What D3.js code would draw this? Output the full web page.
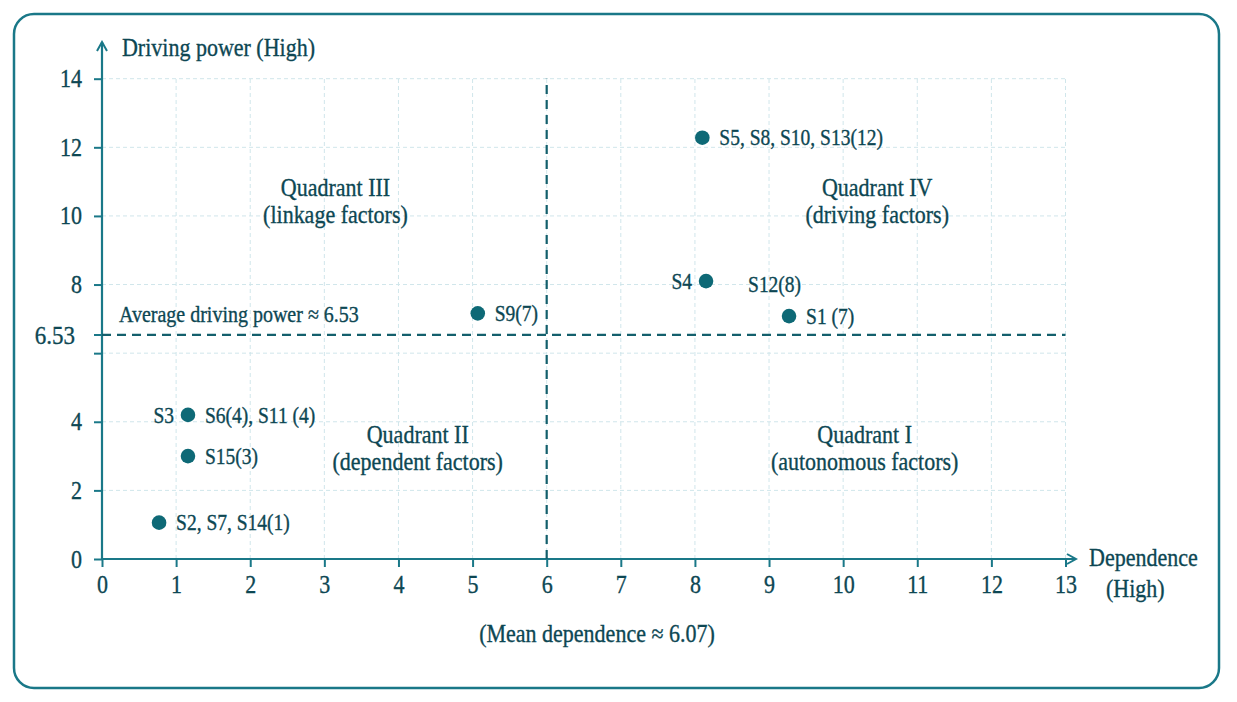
<!DOCTYPE html>
<html>
<head>
<meta charset="utf-8">
<script src="https://cdn.jsdelivr.net/npm/d3@7"></script>
<style>
  body { margin: 0; background: #fff; }
  svg text {
    font-family: "Liberation Serif", "Times New Roman", serif;
    fill: #0d4753;
    stroke: #0d4753;
    stroke-width: 0.3px;
    transform-box: fill-box;
    transform-origin: center;
    transform: scaleY(1.13);
  }
</style>
</head>
<body>
<script>
// data
var dependence = [8.1, 8.15, 9.27, 5.07, 1.16, 1.16, 0.77];
var driving    = [12.28, 8.1, 7.08, 7.16, 4.2, 3.0, 1.06];
var labelRight = ["S5, S8, S10, S13(12)", "S12(8)", "S1 (7)", "S9(7)", "S6(4), S11 (4)", "S15(3)", "S2, S7, S14(1)"];
var labelLeft  = ["", "S4", "", "", "S3", "", ""];

var xTicks = [0, 1, 2, 3, 4, 5, 6, 7, 8, 9, 10, 11, 12, 13];
var yTicks = [0, 2, 4, 6, 8, 10, 12, 14];
var yTickLabels = ["0", "2", "4", "", "8", "10", "12", "14"];

var avgDriving = 6.53;
var meanDependence = 6.07;
var splitDependence = 6;   // dashed line is drawn on the 6 tick

var quadrants = [
  { name: "Quadrant III", sub: "(linkage factors)",    x: 3.15, y: 10.6 },
  { name: "Quadrant IV",  sub: "(driving factors)",    x: 10.46, y: 10.62 },
  { name: "Quadrant II",  sub: "(dependent factors)",  x: 4.26, y: 3.4 },
  { name: "Quadrant I",   sub: "(autonomous factors)", x: 10.29, y: 3.4 }
];

var W = 1237, H = 702;
var teal = "#1a7888", dark = "#0d4753", dot = "#0e6976";

var svg = d3.select("body").append("svg")
  .attr("width", W)
  .attr("height", H);

// frame
svg.append("rect")
  .attr("x", 14).attr("y", 14)
  .attr("width", 1205).attr("height", 674)
  .attr("rx", 20).attr("ry", 20)
  .attr("fill", "#fff")
  .attr("stroke", teal)
  .attr("stroke-width", 2.5);

var x = d3.scaleLinear().domain([0, 13]).range([102, 1065.5]);
var y = d3.scaleLinear().domain([0, 14]).range([559, 78.7]);

// grid
var grid = svg.append("g")
  .attr("stroke", "#d0e6eb")
  .attr("stroke-width", 1)
  .attr("stroke-dasharray", "4,3");

grid.selectAll("line.v")
  .data(xTicks.slice(1))
  .enter().append("line")
  .attr("x1", function(d) { return x(d); })
  .attr("x2", function(d) { return x(d); })
  .attr("y1", y(0)).attr("y2", y(14));

grid.selectAll("line.h")
  .data(yTicks.slice(1))
  .enter().append("line")
  .attr("x1", x(0)).attr("x2", x(13))
  .attr("y1", function(d) { return y(d); })
  .attr("y2", function(d) { return y(d); });

// axes
var xAxis = d3.axisBottom(x).tickValues(xTicks).tickSize(8).tickFormat(d3.format("d"));
var gx = svg.append("g").attr("transform", "translate(0," + y(0) + ")").call(xAxis);
gx.select(".domain").remove();
gx.selectAll(".tick line").attr("stroke", teal).attr("stroke-width", 2);
gx.selectAll(".tick text")
  .attr("font-size", 22)
  .attr("dy", "1.0em")
  .style("font-family", "Liberation Serif, serif")
  .attr("fill", dark);

var yAxis = d3.axisLeft(y).tickValues(yTicks).tickSize(8)
  .tickFormat(function(d, i) { return yTickLabels[i]; });
var gy = svg.append("g").attr("transform", "translate(" + x(0) + ",0)").call(yAxis);
gy.select(".domain").remove();
gy.selectAll(".tick line").attr("stroke", teal).attr("stroke-width", 2);
gy.selectAll(".tick text")
  .attr("font-size", 22)
  .attr("x", -20)
  .style("font-family", "Liberation Serif, serif")
  .attr("fill", dark);

// 6.53 label on y axis
svg.append("text")
  .attr("x", x(0) - 27).attr("y", y(avgDriving))
  .attr("dy", "0.35em")
  .attr("text-anchor", "end")
  .attr("font-size", 23)
  .text(avgDriving.toFixed(2));
svg.append("line")
  .attr("x1", x(0) - 8).attr("x2", x(0))
  .attr("y1", y(avgDriving)).attr("y2", y(avgDriving))
  .attr("stroke", teal).attr("stroke-width", 2);

// arrow marker
svg.append("defs").append("marker")
  .attr("id", "arrow")
  .attr("viewBox", "0 0 12 12")
  .attr("refX", 10).attr("refY", 6)
  .attr("markerWidth", 12).attr("markerHeight", 12)
  .attr("markerUnits", "userSpaceOnUse")
  .attr("orient", "auto")
  .append("path")
  .attr("d", "M1,1 L10,6 L1,11")
  .attr("fill", "none")
  .attr("stroke", teal)
  .attr("stroke-width", 2);

svg.append("line")
  .attr("x1", x(0)).attr("x2", 1076)
  .attr("y1", y(0)).attr("y2", y(0))
  .attr("stroke", teal).attr("stroke-width", 2.2)
  .attr("marker-end", "url(#arrow)");
svg.append("line")
  .attr("x1", x(0)).attr("x2", x(0))
  .attr("y1", y(0)).attr("y2", 42)
  .attr("stroke", teal).attr("stroke-width", 2.2)
  .attr("marker-end", "url(#arrow)");

// dashed mean lines
svg.append("line")
  .attr("x1", x(0)).attr("x2", x(13))
  .attr("y1", y(avgDriving)).attr("y2", y(avgDriving))
  .attr("stroke", "#135f6c").attr("stroke-width", 2.2)
  .attr("stroke-dasharray", "9,6");
svg.append("line")
  .attr("x1", x(splitDependence)).attr("x2", x(splitDependence))
  .attr("y1", y(0)).attr("y2", y(14))
  .attr("stroke", "#135f6c").attr("stroke-width", 2.2)
  .attr("stroke-dasharray", "9,6");

// axis titles
svg.append("text")
  .attr("x", 122).attr("y", 55)
  .attr("font-size", 22)
  .text("Driving power (High)");
svg.append("text")
  .attr("x", 1089).attr("y", 565)
  .attr("font-size", 22)
  .text("Dependence");
svg.append("text")
  .attr("x", 1106).attr("y", 596)
  .attr("font-size", 22)
  .text("(High)");
svg.append("text")
  .attr("x", 597).attr("y", 641)
  .attr("text-anchor", "middle")
  .attr("font-size", 22)
  .text("(Mean dependence \u2248 " + meanDependence.toFixed(2) + ")");
svg.append("text")
  .attr("x", 119).attr("y", 321)
  .attr("font-size", 20)
  .text("Average driving power \u2248 " + avgDriving.toFixed(2));

// quadrant labels
var q = svg.selectAll("g.quad")
  .data(quadrants)
  .enter().append("g")
  .attr("class", "quad");
q.append("text")
  .attr("x", function(d) { return x(d.x); })
  .attr("y", function(d) { return y(d.y); })
  .attr("text-anchor", "middle")
  .attr("font-size", 22)
  .text(function(d) { return d.name; });
q.append("text")
  .attr("x", function(d) { return x(d.x); })
  .attr("y", function(d) { return y(d.y) + 27; })
  .attr("text-anchor", "middle")
  .attr("font-size", 22)
  .text(function(d) { return d.sub; });

// points
var pts = dependence.map(function(d, i) {
  return { x: d, y: driving[i], right: labelRight[i], left: labelLeft[i] };
});

svg.selectAll("circle.pt")
  .data(pts)
  .enter().append("circle")
  .attr("class", "pt")
  .attr("cx", function(d) { return x(d.x); })
  .attr("cy", function(d) { return y(d.y); })
  .attr("r", 7.3)
  .attr("fill", dot);

svg.selectAll("text.rlab")
  .data(pts)
  .enter().append("text")
  .attr("class", "rlab")
  .attr("x", function(d) { return x(d.x) + (d.left === "S4" ? 42 : 17); })
  .attr("y", function(d) { return y(d.y) + (d.left === "S4" ? 3 : 0); })
  .attr("dy", "0.35em")
  .attr("font-size", 19.5)
  .text(function(d) { return d.right; });

svg.selectAll("text.llab")
  .data(pts.filter(function(d) { return d.left; }))
  .enter().append("text")
  .attr("class", "llab")
  .attr("x", function(d) { return x(d.x) - 14; })
  .attr("y", function(d) { return y(d.y); })
  .attr("dy", "0.35em")
  .attr("text-anchor", "end")
  .attr("font-size", 19.5)
  .text(function(d) { return d.left; });
</script>
</body>
</html>
